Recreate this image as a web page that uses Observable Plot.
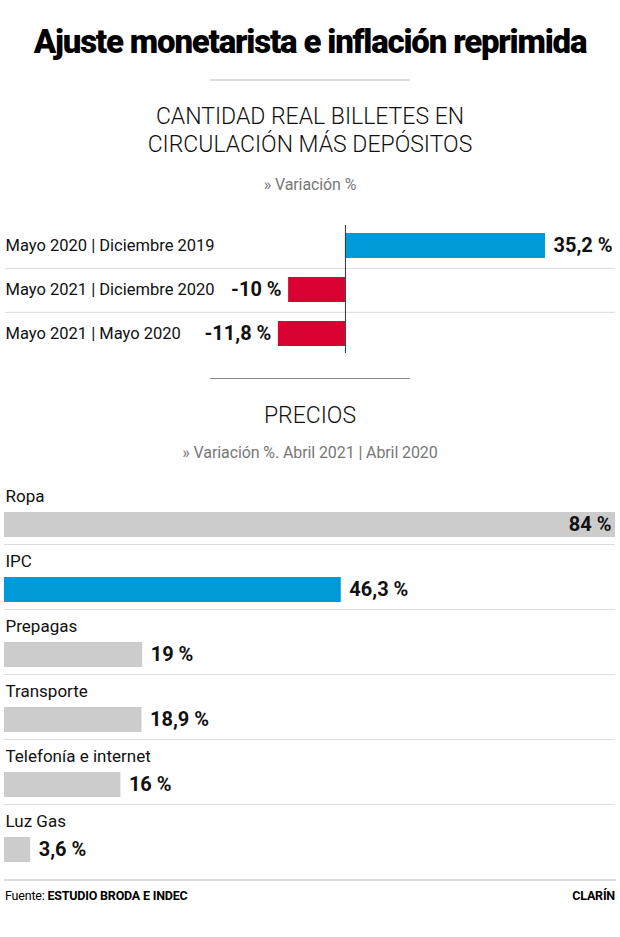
<!DOCTYPE html>
<html><head><meta charset="utf-8">
<script src="https://cdn.jsdelivr.net/npm/d3@7"></script>
<script src="https://cdn.jsdelivr.net/npm/@observablehq/plot@0.6"></script>
<style>
body{margin:0;background:#fff;font-family:Roboto,"Noto Sans",sans-serif;color:#111}
#wrap{position:relative;width:620px;height:937px;overflow:hidden;background:#fff}
.abs{position:absolute;left:0;width:620px;text-align:center;white-space:nowrap}
#title{top:22px;line-height:40px;font-size:33px;font-weight:900;letter-spacing:-1.2px;color:#000}
.sep{position:absolute}
.sub{font-size:23px;font-weight:300;line-height:28px;letter-spacing:0px;color:#111}
.note{font-size:16px;line-height:20px;color:#777;letter-spacing:-0.1px}
#chart1{position:absolute;left:0;top:223px}
#chart2{position:absolute;left:0;top:479px}
#foot{position:absolute;left:5px;width:610px;top:888px;line-height:16px;font-size:12.5px;letter-spacing:-0.2px;color:#000}
#foot b{font-weight:700}
#foot .r{position:absolute;right:0;top:0;font-weight:700}
</style></head><body><div id="wrap">
<div class="abs" id="title">Ajuste monetarista e inflación reprimida</div>
<div class="sep" style="left:210px;top:79px;width:200px;height:2px;background:#ddd"></div>
<div class="abs sub" style="top:103px">CANTIDAD REAL BILLETES EN<br>CIRCULACIÓN MÁS DEPÓSITOS</div>
<div class="abs note" style="top:175px">» Variación %</div>
<div id="chart1"></div>
<div class="sep" style="left:210px;top:378px;width:200px;height:1px;background:#888"></div>
<div class="abs sub" style="top:402px">PRECIOS</div>
<div class="abs note" style="top:443px">» Variación %. Abril 2021 | Abril 2020</div>
<div id="chart2"></div>
<div class="sep" style="left:4px;top:879px;width:612px;height:2px;background:#ddd"></div>
<div id="foot">Fuente: <b>ESTUDIO BRODA E INDEC</b><span class="r">CLARÍN</span></div>
</div>
<script>
// ---- Data ----
const periodos = ["Mayo 2020 | Diciembre 2019", "Mayo 2021 | Diciembre 2020", "Mayo 2021 | Mayo 2020"];
const variacionDinero = [35.2, -10, -11.8];
const rubros = ["Ropa", "IPC", "Prepagas", "Transporte", "Telefonía e internet", "Luz Gas"];
const variacionPrecios = [84, 46.3, 19, 18.9, 16, 3.6];
const destacado = "IPC";

// ---- Styles ----
const BLUE = "#009ad9", RED = "#d90032", GRAY = "#cccccc", LINE = "#dddddd";
const fmt = v => String(v).replace(".", ",") + " %";

// ---- Chart 1 ----
const d1 = periodos.map((p, i) => ({periodo: p, valor: variacionDinero[i]}));
const H1 = 134, step1 = H1 / periodos.length;
const c1 = Plot.plot({
  width: 620, height: H1, margin: 0,
  x: {domain: [-60.7, 48.4], axis: null},
  y: {domain: periodos, axis: null, paddingInner: 0.43, paddingOuter: 0.215},
  style: {fontFamily: "Roboto, sans-serif", fontSize: "16px", background: "transparent", color: "#111"},
  marks: [
    Plot.ruleY(periodos.slice(0, -1), {y: d => d, dy: step1 / 2, stroke: LINE, insetLeft: 5, insetRight: 5}),
    Plot.barX(d1, {filter: d => d.valor >= 0, x: "valor", y: "periodo", fill: BLUE}),
    Plot.barX(d1, {filter: d => d.valor < 0, x: "valor", y: "periodo", fill: RED}),
    Plot.ruleX([0], {stroke: "#333", insetTop: 2, insetBottom: 4}),
    Plot.text(d1, {y: "periodo", text: "periodo", frameAnchor: "left", textAnchor: "start", dx: 5, fontSize: 16.5, fill: "#111"}),
    Plot.text(d1, {filter: d => d.valor >= 0, x: "valor", y: "periodo", text: d => fmt(d.valor), textAnchor: "start", dx: 8, fontSize: 20, fontWeight: "bold", fill: "#111"}),
    Plot.text(d1, {filter: d => d.valor < 0, x: "valor", y: "periodo", text: d => fmt(d.valor), textAnchor: "end", dx: -7, fontSize: 20, fontWeight: "bold", fill: "#111"})
  ]
});
document.getElementById("chart1").appendChild(c1);

// ---- Chart 2 ----
const d2 = rubros.map((r, i) => ({rubro: r, valor: variacionPrecios[i]}));
const H2 = 390, step2 = H2 / rubros.length;
const maxV = d3.max(variacionPrecios);
const c2 = Plot.plot({
  width: 620, height: H2, marginTop: 0, marginBottom: 0, marginLeft: 4, marginRight: 5,
  x: {domain: [0, maxV], axis: null},
  y: {domain: rubros, axis: null, padding: 0},
  style: {fontFamily: "Roboto, sans-serif", fontSize: "16px", background: "transparent", color: "#111"},
  marks: [
    Plot.ruleY(rubros.slice(0, -1), {y: d => d, dy: step2 / 2, stroke: LINE}),
    Plot.barX(d2, {x: "valor", y: "rubro", fill: d => d.rubro === destacado ? BLUE : GRAY, insetTop: 33, insetBottom: 7}),
    Plot.text(d2, {y: "rubro", text: "rubro", frameAnchor: "left", textAnchor: "start", dx: 1, dy: -15.5, fontSize: 17, fill: "#111"}),
    Plot.text(d2, {filter: d => d.valor === maxV, x: "valor", y: "rubro", text: d => fmt(d.valor), textAnchor: "end", dx: -4, dy: 13, fontSize: 20, fontWeight: "bold", fill: "#111"}),
    Plot.text(d2, {filter: d => d.valor !== maxV, x: "valor", y: "rubro", text: d => fmt(d.valor), textAnchor: "start", dx: 8, dy: 13, fontSize: 20, fontWeight: "bold", fill: "#111"})
  ]
});
document.getElementById("chart2").appendChild(c2);
</script>
</body></html>
